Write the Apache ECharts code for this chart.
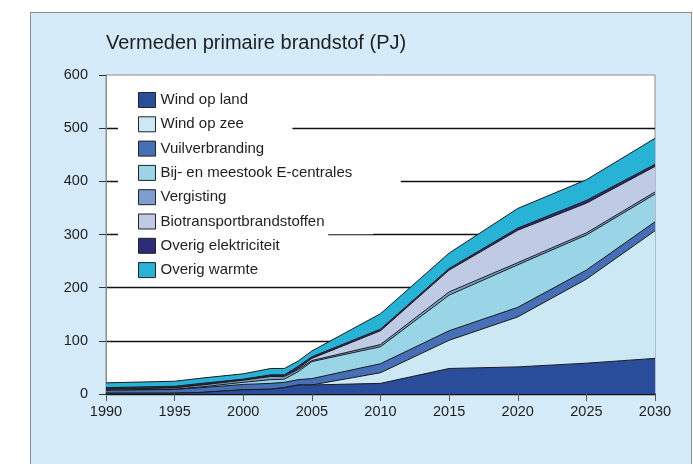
<!DOCTYPE html>
<html>
<head>
<meta charset="utf-8">
<script src="https://cdn.jsdelivr.net/npm/echarts@6/dist/echarts.min.js"></script>
<style>
	html, body { margin: 0; padding: 0; background: #fff; }
	#wrap { position: relative; width: 693px; height: 464px; overflow: hidden; }
	#panel { position: absolute; left: 30px; top: 12px; width: 660px; height: 470px; background: #d5ebfa; border: 1px solid #8c8c8c; }
	#chart { position: absolute; left: 0; top: 0; width: 693px; height: 464px; }
</style>
</head>
<body>
<div id="wrap">
	<div id="panel"></div>
	<div id="chart"></div>
</div>
<script>
// jaren met een knik in de lijnen
const years = [1990, 1995, 1997, 2000, 2002, 2003, 2004, 2005, 2010, 2015, 2020, 2025, 2030];

// PJ per bron (gestapeld)
const windOpLand = [1.5, 1.5, 3, 8, 9, 12, 17, 17, 20, 48, 51, 58, 67];
const windOpZee = [0, 0, 0, 0, 0, 0, 0, 0, 20, 53, 94, 158, 240];
const vuilverbranding = [5.5, 7, 9, 10, 11, 10, 10, 12, 17, 18, 18, 17, 17];
const bijMeestook = [0.5, 0.5, 1.5, 4, 7, 6, 15, 32, 32, 67, 80, 66, 52];
const vergisting = [1.5, 2.5, 3.5, 4, 6, 5, 4, 2, 4, 6, 4, 4, 4];
const biotransport = [0, 0, 0, 0, 1, 1, 2, 4, 26, 41, 61, 56, 48];
const overigElektriciteit = [3, 3, 3, 2, 2, 2, 4, 3, 3, 3, 4, 5, 4];
const overigWarmte = [9, 9.5, 10, 10, 12, 12, 10, 11, 29, 29, 37, 39, 49];

const yTicks = [0, 100, 200, 300, 400, 500, 600];

const seriesDefs = [
	{name: 'Wind op land', data: windOpLand, color: '#2a4d9b'},
	{name: 'Wind op zee', data: windOpZee, color: '#cde8f5'},
	{name: 'Vuilverbranding', data: vuilverbranding, color: '#466fb5'},
	{name: 'Bij- en meestook E-centrales', data: bijMeestook, color: '#99d5e7'},
	{name: 'Vergisting', data: vergisting, color: '#7e9dd0'},
	{name: 'Biotransportbrandstoffen', data: biotransport, color: '#bfcae5'},
	{name: 'Overig elektriciteit', data: overigElektriciteit, color: '#2c2b7c'},
	{name: 'Overig warmte', data: overigWarmte, color: '#28b2d6'}
];

// zelf stapelen: elke laag loopt tot het cumulatieve totaal, bovenste laag eerst tekenen
const running = years.map(() => 0);
const stacked = seriesDefs.map(s => {
	const cum = s.data.map((v, i) => (running[i] += v));
	return Object.assign({}, s, {cum: cum});
});

const myChart = echarts.init(document.getElementById('chart'));
const font = '"Liberation Sans", Arial, sans-serif';
const legendFontSize = 15;
const rowPitch = 24.3;
const firstRow = 100;

// witte vlakjes achter elke legendaregel (verbergen de rasterlijnen)
const ctx = document.createElement('canvas').getContext('2d');
ctx.font = legendFontSize + 'px ' + font;
const legendBoxes = seriesDefs.map((s, i) => ({
	type: 'rect',
	z: 1,
	shape: {
		x: 118,
		y: firstRow - rowPitch / 2 + i * rowPitch,
		width: 161 - 118 + ctx.measureText(s.name).width + 48,
		height: rowPitch + 0.5
	},
	style: {fill: '#fff'},
	silent: true
}));

const option = {
	animation: false,
	textStyle: {fontFamily: font},
	title: {
		text: 'Vermeden primaire brandstof (PJ)',
		left: 106,
		top: 33,
		padding: 0,
		textStyle: {fontFamily: font, fontSize: 20, fontWeight: 'normal', color: '#1e1e1e'}
	},
	legend: {
		data: seriesDefs.map(s => s.name),
		left: 138,
		top: firstRow - 8.5,
		orient: 'vertical',
		icon: 'rect',
		itemWidth: 17,
		itemHeight: 15,
		itemGap: rowPitch - 17,
		padding: 0,
		selectedMode: false,
		itemStyle: {borderColor: '#222', borderWidth: 1},
		textStyle: {fontFamily: font, fontSize: legendFontSize, lineHeight: 17, color: '#1e1e1e'}
	},
	graphic: legendBoxes,
	grid: {
		left: 106,
		right: 38,
		top: 75,
		bottom: 70,
		show: true,
		backgroundColor: '#fff',
		borderColor: '#8c8c8c',
		borderWidth: 1
	},
	xAxis: {
		type: 'value',
		min: 1990,
		max: 2030,
		interval: 5,
		axisLine: {lineStyle: {color: '#111', width: 1.5}},
		axisTick: {show: true, length: 7, lineStyle: {color: '#555'}},
		axisLabel: {margin: 10, fontSize: 14.5, color: '#1e1e1e', fontFamily: font, formatter: v => String(v)},
		splitLine: {show: false}
	},
	yAxis: {
		type: 'value',
		min: yTicks[0],
		max: yTicks[yTicks.length - 1],
		interval: 100,
		axisLine: {show: true, lineStyle: {color: '#8c8c8c'}},
		axisTick: {show: true, length: 7, lineStyle: {color: '#333'}},
		axisLabel: {margin: 18, fontSize: 14.5, color: '#1e1e1e', fontFamily: font},
		splitLine: {show: true, showMaxLine: false, lineStyle: {color: '#111', width: 1.4}}
	},
	series: stacked.slice().reverse().map((s, k) => ({
		name: s.name,
		type: 'line',
		symbol: 'none',
		z: 2 + k * 0.01,
		color: s.color,
		itemStyle: {color: s.color},
		lineStyle: {color: '#1c1c1c', width: 1},
		areaStyle: {color: s.color, opacity: 1},
		data: years.map((y, i) => [y, s.cum[i]])
	}))
};

myChart.setOption(option);
</script>
</body>
</html>
